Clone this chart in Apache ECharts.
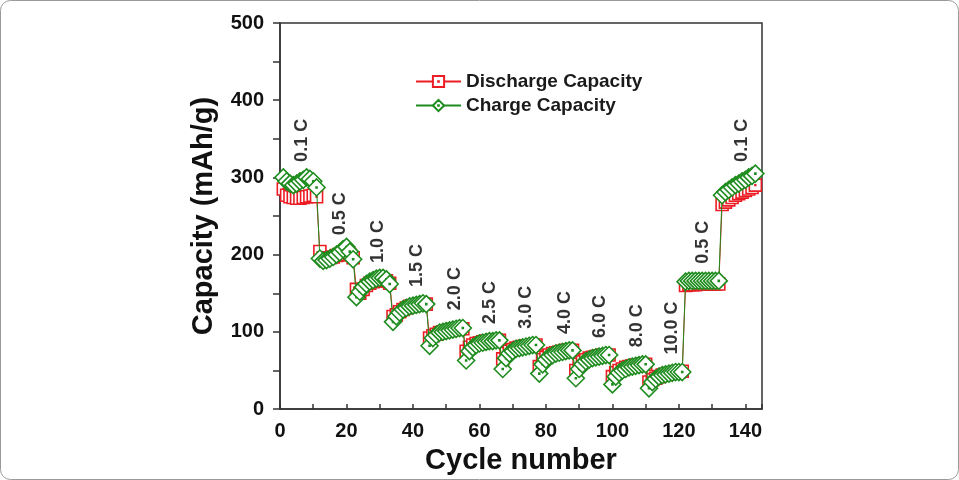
<!DOCTYPE html>
<html><head><meta charset="utf-8">
<script src="https://cdn.jsdelivr.net/npm/echarts@6/dist/echarts.min.js"></script>
<style>html,body{margin:0;padding:0;background:#fff}#c{width:959px;height:480px}</style>
</head><body><div id="c"></div><script>
// cycle numbers 1..143 (13 rate steps x 11 cycles)
const cycles = [];
for (let i = 1; i <= 143; i++) cycles.push(i);

const discharge = [
  285, 277, 275, 274, 273, 273, 274, 275, 276, 277, 275,
  204, 196, 195, 196, 197, 199, 200, 203, 205, 200, 196,
  155, 150, 155, 160, 163, 165, 166, 167, 167, 166, 163,
  120, 122, 126, 129, 131, 133, 134, 135, 136, 136, 136,
  92, 95, 97, 99, 100, 101, 102, 103, 104, 104, 104,
  75, 80, 83, 85, 86, 87, 88, 88, 89, 89, 89,
  65, 72, 75, 77, 79, 80, 81, 82, 82, 83, 83,
  55, 64, 67, 70, 72, 73, 74, 75, 76, 76, 76,
  50, 58, 61, 64, 66, 67, 68, 69, 70, 70, 70,
  42, 47, 50, 52, 54, 55, 56, 57, 57, 58, 58,
  35, 38, 40, 42, 44, 45, 46, 47, 48, 48, 49,
  160, 161, 161, 161, 162, 162, 162, 162, 162, 162, 162,
  265, 268, 271, 274, 277, 279, 281, 283, 285, 287, 290
];

const charge = [
  300, 295, 292, 290, 292, 295, 297, 300, 298, 295, 287,
  195, 192, 193, 195, 197, 200, 203, 207, 210, 204, 194,
  145, 152, 158, 162, 165, 167, 169, 170, 170, 168, 162,
  113, 120, 125, 129, 131, 133, 134, 135, 136, 137, 136,
  82, 92, 96, 99, 100, 101, 102, 103, 104, 105, 105,
  63, 75, 80, 83, 85, 86, 87, 88, 88, 89, 89,
  52, 66, 72, 75, 78, 79, 80, 81, 82, 83, 83,
  46, 58, 64, 68, 70, 72, 73, 74, 75, 76, 76,
  40, 52, 58, 62, 64, 66, 67, 68, 69, 70, 70,
  32, 42, 47, 50, 52, 54, 55, 56, 57, 58, 58,
  27, 35, 39, 42, 44, 45, 46, 47, 48, 48, 48,
  165, 166, 166, 166, 166, 166, 166, 166, 166, 166, 166,
  277, 281, 284, 287, 290, 292, 295, 297, 300, 302, 305
];

const rateNames = ['0.1 C','0.5 C','1.0 C','1.5 C','2.0 C','2.5 C','3.0 C','4.0 C','6.0 C','8.0 C','10.0 C','0.5 C','0.1 C'];
const rateLabelCycle = [6.6, 18.0, 29.5, 41.2, 52.6, 63.1, 74.0, 85.7, 96.2, 107.3, 117.9, 127.2, 138.9];
const rateLabelCap = [348, 253, 217, 186, 156, 138, 132, 125, 120, 108, 105, 216, 348];

const xTickLabels = [0, 20, 40, 60, 80, 100, 120, 140];
const yTickLabels = [0, 100, 200, 300, 400, 500];

const RED = '#ec1c24', GREEN = '#1e8c1e', AX = '#333';
const FONT = '"Liberation Sans", Arial, sans-serif';
const sq = 'path://M0,0L10,0L10,10L0,10Z M4.7,4.7L5.3,4.7L5.3,5.3L4.7,5.3Z';
const dia = 'path://M5,0L10,5L5,10L0,5Z M4.7,4.7L5.3,4.7L5.3,5.3L4.7,5.3Z';

const chart = echarts.init(document.getElementById('c'), null, {renderer: 'canvas'});
chart.setOption({
  animation: false,
  backgroundColor: '#fff',
  textStyle: {fontFamily: FONT},
  graphic: [{type: 'rect', shape: {x: 0.5, y: 0.5, width: 958, height: 479, r: 10},
    style: {fill: 'none', stroke: '#9a9a9a', lineWidth: 1}, silent: true}],
  grid: {left: 280, right: 197, top: 23, bottom: 68, show: true, borderColor: AX, borderWidth: 1.5, backgroundColor: 'transparent'},
  legend: {
    data: ['Discharge Capacity', 'Charge Capacity'],
    orient: 'vertical', left: 415, top: 72, padding: 0, itemWidth: 45, itemHeight: 14, itemGap: 5,
    textStyle: {fontFamily: FONT, fontSize: 19, fontWeight: 'bold', color: '#1a1a1a'}
  },
  xAxis: {
    type: 'value', min: 0, max: 145, interval: 10,
    name: 'Cycle number', nameLocation: 'middle', nameGap: 35,
    nameTextStyle: {fontFamily: FONT, fontSize: 29, fontWeight: 'bold', color: '#111'},
    axisLine: {lineStyle: {color: AX, width: 1.5}},
    axisTick: {inside: true, length: 5, lineStyle: {color: AX, width: 1.5}},
    axisLabel: {margin: 12, fontFamily: FONT, fontSize: 20, fontWeight: 'bold', color: '#111',
      formatter: v => xTickLabels.indexOf(v) >= 0 ? String(v) : ''},
    splitLine: {show: false}
  },
  yAxis: {
    type: 'value', min: 0, max: 500, interval: 50,
    name: 'Capacity (mAh/g)', nameLocation: 'middle', nameGap: 62,
    nameTextStyle: {fontFamily: FONT, fontSize: 29, fontWeight: 'bold', color: '#111'},
    axisLine: {lineStyle: {color: AX, width: 1.5}},
    axisTick: {inside: false, length: 7, lineStyle: {color: AX, width: 1.5}},
    axisLabel: {margin: 16, fontFamily: FONT, fontSize: 20, fontWeight: 'bold', color: '#111',
      formatter: v => yTickLabels.indexOf(v) >= 0 ? String(v) : ''},
    splitLine: {show: false}
  },
  series: [
    {
      name: 'Discharge Capacity', type: 'line',
      data: cycles.map((c, i) => [c, discharge[i]]),
      symbol: sq, symbolSize: 12,
      itemStyle: {color: '#fff', borderColor: RED, borderWidth: 1.6},
      lineStyle: {color: RED, width: 1}, z: 2
    },
    {
      name: 'Charge Capacity', type: 'line',
      data: cycles.map((c, i) => [c, charge[i]]),
      symbol: dia, symbolSize: 17,
      itemStyle: {color: '#fff', borderColor: GREEN, borderWidth: 1.6},
      lineStyle: {color: GREEN, width: 1}, z: 3
    },
    {
      name: 'rates', type: 'scatter', silent: true,
      data: rateLabelCycle.map((c, i) => [c, rateLabelCap[i]]),
      symbolSize: 1, itemStyle: {color: 'rgba(0,0,0,0)'}, z: 5,
      label: {show: true, position: 'inside', rotate: 90, formatter: p => rateNames[p.dataIndex],
        fontFamily: FONT, fontSize: 18, fontWeight: 'bold', color: '#000'}
    }
  ]
});
</script></body></html>
